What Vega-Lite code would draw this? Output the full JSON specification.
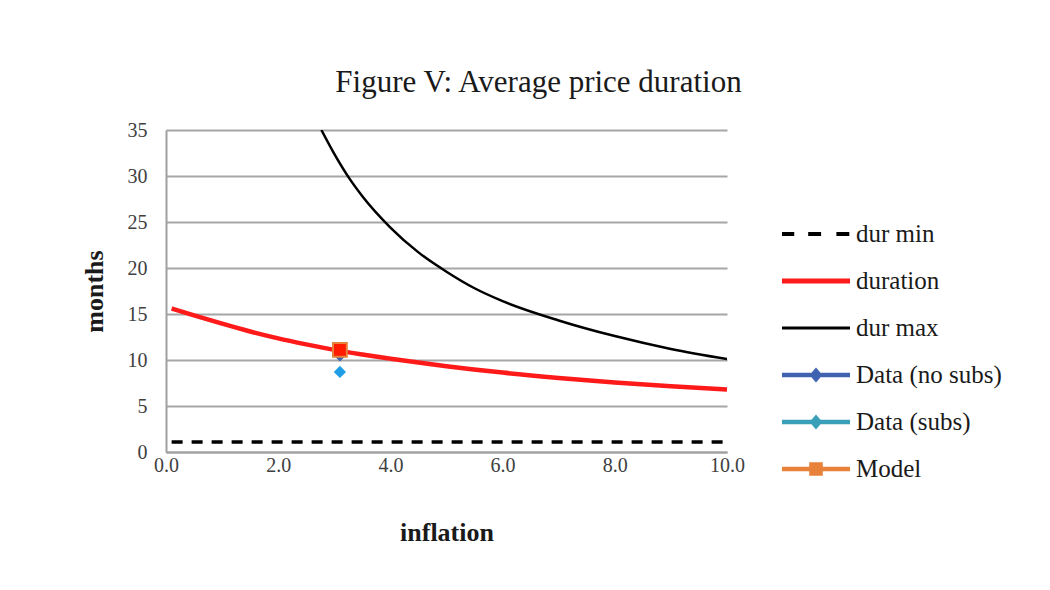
{
  "$schema": "https://vega.github.io/schema/vega-lite/v6.json",
  "autosize": {"type": "none"},
  "width": 561,
  "height": 322,
  "padding": {"left": 166, "top": 130, "right": 323, "bottom": 138},
  "background": "white",
  "title": {
    "text": "Figure V: Average price duration",
    "font": "Liberation Serif",
    "fontSize": 31,
    "fontWeight": "normal",
    "color": "#1a1a1a",
    "anchor": "middle",
    "frame": "group",
    "dx": 92,
    "offset": 21
  },
  "datasets": {
    "lines": [
      {"series": "dur min", "inflation": 0.1, "months": 1.1},
      {"series": "dur min", "inflation": 10.0, "months": 1.1},
      {"series": "duration", "inflation": 0.1, "months": 15.6},
      {"series": "duration", "inflation": 0.5, "months": 14.85},
      {"series": "duration", "inflation": 1.0, "months": 13.95},
      {"series": "duration", "inflation": 1.5, "months": 13.1},
      {"series": "duration", "inflation": 2.0, "months": 12.35},
      {"series": "duration", "inflation": 2.5, "months": 11.7},
      {"series": "duration", "inflation": 3.0, "months": 11.1},
      {"series": "duration", "inflation": 3.5, "months": 10.6},
      {"series": "duration", "inflation": 4.0, "months": 10.15},
      {"series": "duration", "inflation": 4.5, "months": 9.72},
      {"series": "duration", "inflation": 5.0, "months": 9.33},
      {"series": "duration", "inflation": 6.0, "months": 8.63},
      {"series": "duration", "inflation": 7.0, "months": 8.05},
      {"series": "duration", "inflation": 8.0, "months": 7.55},
      {"series": "duration", "inflation": 9.0, "months": 7.15},
      {"series": "duration", "inflation": 10.0, "months": 6.8},
      {"series": "dur max", "inflation": 2.77, "months": 35.0},
      {"series": "dur max", "inflation": 3.0, "months": 32.4},
      {"series": "dur max", "inflation": 3.25, "months": 29.9},
      {"series": "dur max", "inflation": 3.5, "months": 27.8},
      {"series": "dur max", "inflation": 4.0, "months": 24.4},
      {"series": "dur max", "inflation": 4.5, "months": 21.7},
      {"series": "dur max", "inflation": 5.0, "months": 19.6},
      {"series": "dur max", "inflation": 5.5, "months": 17.8},
      {"series": "dur max", "inflation": 6.0, "months": 16.4},
      {"series": "dur max", "inflation": 7.0, "months": 14.3},
      {"series": "dur max", "inflation": 8.0, "months": 12.6},
      {"series": "dur max", "inflation": 9.0, "months": 11.2},
      {"series": "dur max", "inflation": 10.0, "months": 10.1}
    ],
    "points": [
      {"series": "Data (no subs)", "inflation": 3.1, "months": 10.5},
      {"series": "Data (subs)", "inflation": 3.1, "months": 8.7},
      {"series": "Model", "inflation": 3.1, "months": 11.1}
    ]
  },
  "encoding": {
    "x": {
      "field": "inflation",
      "type": "quantitative",
      "scale": {"domain": [0, 10], "nice": false},
      "axis": {
        "title": "inflation",
        "values": [0, 2, 4, 6, 8, 10],
        "format": ".1f",
        "grid": false,
        "ticks": false,
        "labelFlush": false,
        "domainColor": "#a0a0a0",
        "domainWidth": 2,
        "labelFont": "Liberation Serif",
        "labelFontSize": 20,
        "labelColor": "#404040",
        "labelPadding": 3,
        "titleFont": "Liberation Serif",
        "titleFontSize": 26,
        "titleFontWeight": "bold",
        "titleColor": "#1a1a1a",
        "titlePadding": 44
      }
    },
    "y": {
      "field": "months",
      "type": "quantitative",
      "scale": {"domain": [0, 35], "nice": false},
      "axis": {
        "title": "months",
        "values": [0, 5, 10, 15, 20, 25, 30, 35],
        "grid": true,
        "gridColor": "#a6a6a6",
        "gridWidth": 2,
        "ticks": false,
        "labelFlush": false,
        "domainColor": "#a0a0a0",
        "domainWidth": 2,
        "labelFont": "Liberation Serif",
        "labelFontSize": 20,
        "labelColor": "#404040",
        "labelPadding": 19,
        "titleFont": "Liberation Serif",
        "titleFontSize": 26,
        "titleFontWeight": "bold",
        "titleColor": "#1a1a1a",
        "titlePadding": 20
      }
    }
  },
  "layer": [
    {
      "data": {"name": "lines"},
      "transform": [{"filter": "datum.series === 'dur min'"}],
      "mark": {"type": "line", "color": "#000000", "strokeWidth": 3.5, "strokeDash": [11, 9]}
    },
    {
      "data": {"name": "lines"},
      "transform": [{"filter": "datum.series === 'dur max'"}],
      "mark": {"type": "line", "color": "#000000", "strokeWidth": 2.5, "interpolate": "monotone", "clip": true}
    },
    {
      "data": {"name": "lines"},
      "transform": [{"filter": "datum.series === 'duration'"}],
      "mark": {"type": "line", "color": "#ff1a1a", "strokeWidth": 4.5, "interpolate": "monotone"}
    },
    {
      "data": {"name": "points"},
      "transform": [{"filter": "datum.series === 'Data (no subs)'"}],
      "mark": {"type": "point", "shape": "diamond", "filled": true, "color": "#3f63b0", "size": 150, "opacity": 1}
    },
    {
      "data": {"name": "points"},
      "transform": [{"filter": "datum.series === 'Data (subs)'"}],
      "mark": {"type": "point", "shape": "diamond", "filled": true, "color": "#1f9ee6", "size": 150, "opacity": 1}
    },
    {
      "data": {"name": "points"},
      "transform": [{"filter": "datum.series === 'Model'"}],
      "mark": {"type": "point", "shape": "square", "filled": true, "fill": "#ff1a00", "stroke": "#e8823a", "strokeWidth": 2, "size": 190, "opacity": 1}
    },
    {
      "data": {"name": "points"},
      "mark": {"type": "point", "filled": true, "opacity": 0},
      "encoding": {
        "shape": {
          "field": "series",
          "type": "nominal",
          "scale": {
            "domain": ["dur min", "duration", "dur max", "Data (no subs)", "Data (subs)", "Model"],
            "range": [
              "M-1,-0.06H-0.64V0.06H-1Z M-0.23,-0.06H0.15V0.06H-0.23Z M0.6,-0.06H0.98V0.06H0.6Z",
              "M-1,-0.07H1V0.07H-1Z",
              "M-1,-0.045H1V0.045H-1Z",
              "M-1,-0.065H1V0.065H-1Z M0,-0.22L0.19,0L0,0.22L-0.19,0Z",
              "M-1,-0.065H1V0.065H-1Z M0,-0.22L0.19,0L0,0.22L-0.19,0Z",
              "M-1,-0.065H1V0.065H-1Z M-0.2,-0.2H0.2V0.2H-0.2Z"
            ]
          },
          "legend": {
            "title": null,
            "orient": "none",
            "legendX": 616,
            "legendY": 70,
            "symbolSize": 4624,
            "symbolOpacity": 1,
            "symbolStrokeWidth": 0,
            "labelFont": "Liberation Serif",
            "labelFontSize": 25,
            "labelColor": "#1a1a1a",
            "labelOffset": 6,
            "rowPadding": 0
          }
        },
        "fill": {
          "field": "series",
          "type": "nominal",
          "scale": {
            "domain": ["dur min", "duration", "dur max", "Data (no subs)", "Data (subs)", "Model"],
            "range": ["#000000", "#ff1a1a", "#000000", "#3f63b0", "#3a9fb8", "#e8823a"]
          },
          "legend": {
            "title": null,
            "orient": "none",
            "legendX": 616,
            "legendY": 70,
            "symbolSize": 4624,
            "symbolOpacity": 1,
            "symbolStrokeWidth": 0,
            "labelFont": "Liberation Serif",
            "labelFontSize": 25,
            "labelColor": "#1a1a1a",
            "labelOffset": 6,
            "rowPadding": 0
          }
        }
      }
    }
  ],
  "config": {
    "view": {"stroke": null},
    "legend": {"labelFont": "Liberation Serif", "labelFontSize": 25}
  }
}
